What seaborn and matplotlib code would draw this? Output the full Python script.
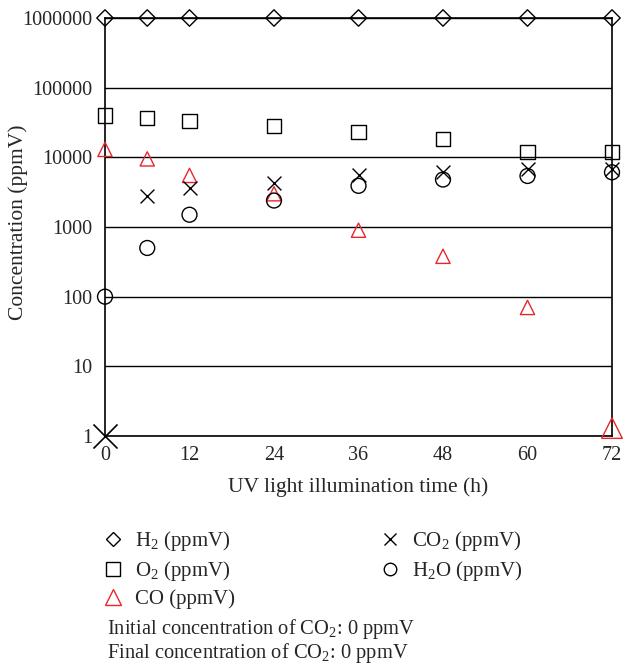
import matplotlib
matplotlib.use("Agg")
import matplotlib.pyplot as plt
import seaborn as sns
import pandas as pd
from matplotlib.lines import Line2D

# ---- data ----
hours = [0, 6, 12, 24, 36, 48, 60, 72]
h2 = [1000000, 1000000, 1000000, 1000000, 1000000, 1000000, 1000000, 1000000]
o2 = [40000, 37000, 33000, 28000, 23000, 18500, 12000, 12000]
co = [13000, 9500, 5500, 3000, 900, 380, 70, 1.3]
co2 = [1, 2800, 3600, 4300, 5600, 6200, 6700, 6800]
h2o = [100, 500, 1500, 2400, 3900, 4800, 5400, 6100]
x_ticks = [0, 12, 24, 36, 48, 60, 72]
y_ticks = [1, 10, 100, 1000, 10000, 100000, 1000000]
labels = ["H$_2$ (ppmV)", "O$_2$ (ppmV)", "CO (ppmV)", "CO$_2$ (ppmV)", "H$_2$O (ppmV)"]
notes = ["Initial concentration of CO$_2$: 0 ppmV", "Final concentration of CO$_2$: 0 ppmV"]

sns.set_style("white")
plt.rcParams["font.family"] = ["Liberation Serif", "DejaVu Serif"]
plt.rcParams["mathtext.fontset"] = "custom"
plt.rcParams["mathtext.rm"] = "Liberation Serif"
plt.rcParams["mathtext.it"] = "Liberation Serif:italic"

df = pd.DataFrame({"t": hours, "H2": h2, "O2": o2, "CO": co, "CO2": co2, "H2O": h2o})

fig = plt.figure(figsize=(6.24, 6.65), dpi=100)
ax = fig.add_axes([105 / 624, 1 - 436 / 665, 507 / 624, 418 / 665])
ax.set_yscale("log")
ax.set_xlim(0, 72)
ax.set_ylim(1, 1000000)

red = "#e8262b"
common = dict(ax=ax, legend=False, clip_on=False, zorder=5)
sns.scatterplot(data=df, x="t", y="H2", marker="D", s=70, facecolor="none",
                edgecolor="black", linewidth=1.0, **common)
sns.scatterplot(data=df, x="t", y="O2", marker="s", s=105, facecolor="none",
                edgecolor="black", linewidth=1.0, **common)
sns.scatterplot(data=df.iloc[:-1], x="t", y="CO", marker="^", s=105, facecolor="none",
                edgecolor=red, linewidth=1.0, **common)
sns.scatterplot(data=df.iloc[-1:], x="t", y="CO", marker="^", s=220, facecolor="none",
                edgecolor=red, linewidth=1.0, **common)
sns.scatterplot(data=df.iloc[1:], x="t", y="CO2", marker="x", s=100, color="black",
                linewidth=1.0, **common)
sns.scatterplot(data=df.iloc[:1], x="t", y="CO2", marker="x", s=300, color="black",
                linewidth=1.2, **common)
sns.scatterplot(data=df, x="t", y="H2O", marker="o", s=115, facecolor="none",
                edgecolor="black", linewidth=1.0, **common)

ax.set_xticks(x_ticks)
ax.set_xticklabels([str(v) for v in x_ticks], fontsize=14.5)
ax.set_yticks(y_ticks)
ax.set_yticklabels([str(v) for v in y_ticks], fontsize=14.5)
ax.minorticks_off()
ax.tick_params(axis="both", direction="in", length=7, width=1, color="black")
ax.tick_params(axis="x", top=False, pad=7)
ax.tick_params(axis="y", pad=9)
ax.grid(axis="y", color="black", linewidth=1.0)
ax.set_axisbelow(True)
for sp in ax.spines.values():
    sp.set_color("black")
    sp.set_linewidth(1.2)
ax.set_xlabel("UV light illumination time (h)", fontsize=15.5)
ax.set_ylabel("Concentration (ppmV)", fontsize=15.5)
ax.xaxis.set_label_coords(0.5, -(487 - 436) / 418, transform=ax.transAxes)
ax.xaxis.label.set_va("center")
ax.yaxis.set_label_coords((18 - 105) / 507, 0.5 - (222 - 227) / 418, transform=ax.transAxes)
ax.yaxis.label.set_va("center")

handles = [
    Line2D([], [], marker="D", linestyle="none", markersize=7.5, markerfacecolor="none",
           markeredgecolor="black"),
    Line2D([], [], marker="s", linestyle="none", markersize=10, markerfacecolor="none",
           markeredgecolor="black"),
    Line2D([], [], marker="^", linestyle="none", markersize=11, markerfacecolor="none",
           markeredgecolor=red),
    Line2D([], [], marker="x", linestyle="none", markersize=8, color="black"),
    Line2D([], [], marker="o", linestyle="none", markersize=9, markerfacecolor="none",
           markeredgecolor="black"),
]
leg_kw = dict(frameon=False, fontsize=15, loc="upper left", handlelength=1.0,
              handletextpad=0.55, labelspacing=0.3, borderaxespad=0, borderpad=0)
fig.legend(handles[:3], labels[:3], bbox_to_anchor=(102.5 / 624, 1 - 529 / 665), **leg_kw)
fig.legend(handles[3:], labels[3:], bbox_to_anchor=(379.5 / 624, 1 - 529 / 665), **leg_kw)
fig.text(107 / 624, 1 - 641 / 665, "\n".join(notes), fontsize=14.8, va="center", ha="left",
         linespacing=1.0)

fig.savefig("out.png", dpi=100)
